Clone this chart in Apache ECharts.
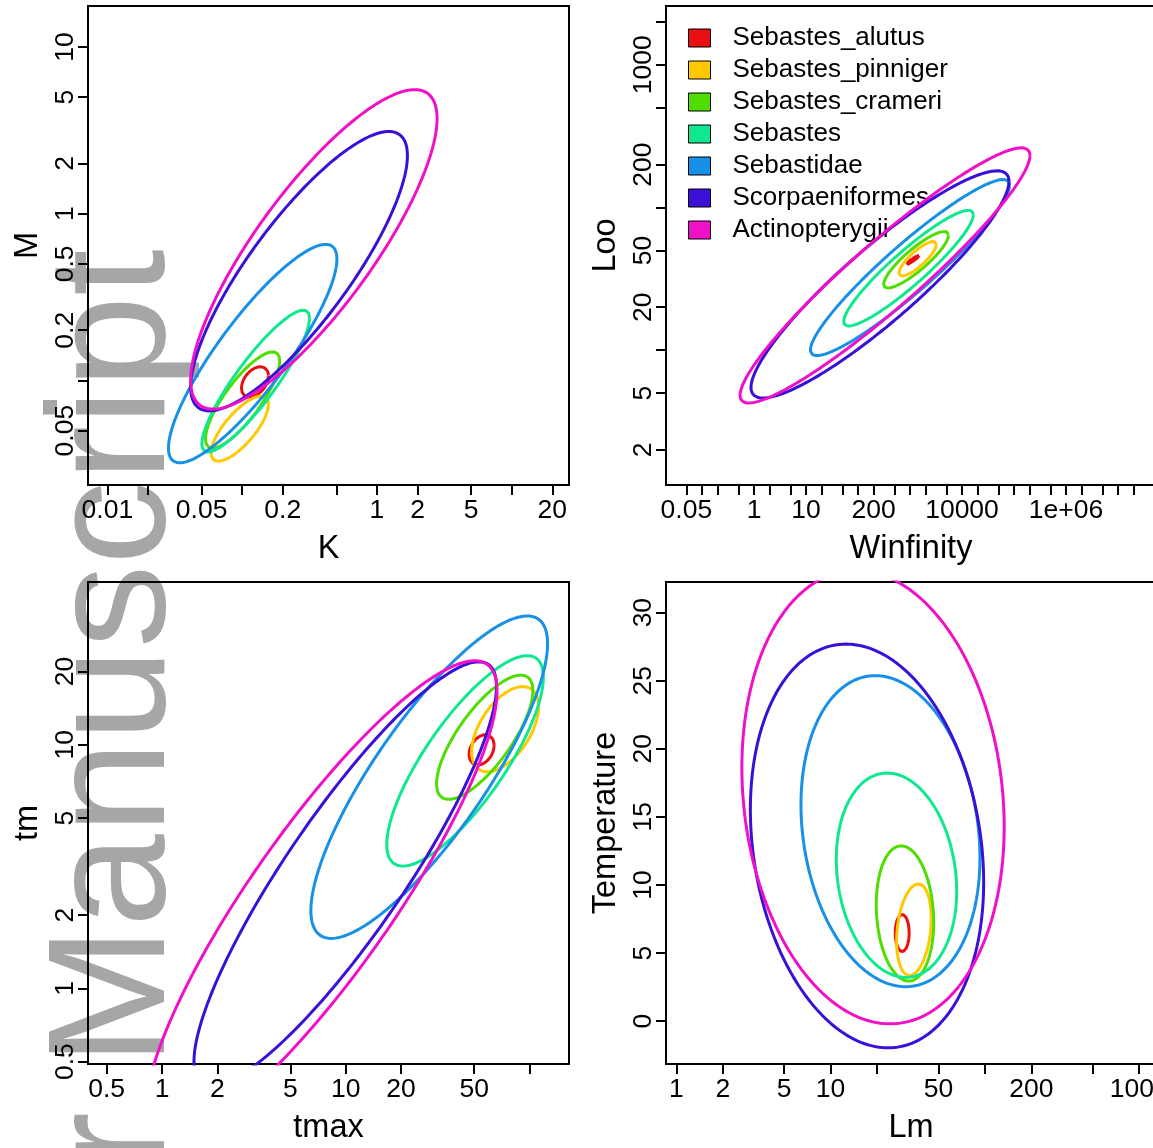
<!DOCTYPE html>
<html>
<head>
<meta charset="utf-8">
<script src="https://cdn.jsdelivr.net/npm/echarts@6/dist/echarts.min.js"></script>
<style>
html, body { margin: 0; padding: 0; background: #fff; }
#chart { width: 1153px; height: 1148px; }
</style>
</head>
<body>
<div id="chart"></div>
<script>
'use strict';

// taxa, in drawing order (last one ends up on top)
var taxa = ['Sebastes_alutus', 'Sebastes_pinniger', 'Sebastes_crameri', 'Sebastes',
    'Sebastidae', 'Scorpaeniformes', 'Actinopterygii'];
var taxaColors = ['#E81010', '#FFC800', '#50DD00', '#10E890', '#1890E8', '#3A10D8', '#F010C8'];

// K vs M : ellipse centre / half extent in log10 units, and correlation
var kmCentreK = [-0.905, -1.018, -0.997, -0.900, -0.922, -0.578, -0.468];
var kmCentreM = [-1.009, -1.289, -1.117, -1.004, -0.839, -0.345, -0.214];
var kmSpreadK = [0.100, 0.213, 0.275, 0.399, 0.625, 0.804, 0.914];
var kmSpreadM = [0.091, 0.195, 0.288, 0.425, 0.655, 0.838, 0.958];
var kmCor = [0.40, 0.75, 0.81, 0.886, 0.866, 0.828, 0.819];

// Winfinity vs Loo
var wlCentreW = [3.050, 3.147, 3.117, 2.971, 3.000, 2.423, 2.519];
var wlCentreL = [1.632, 1.641, 1.634, 1.575, 1.579, 1.461, 1.524];
var wlSpreadW = [0.125, 0.359, 0.623, 1.246, 1.915, 2.481, 2.788];
var wlSpreadL = [0.032, 0.121, 0.198, 0.405, 0.617, 0.796, 0.894];
var wlCor = [0.95, 0.83, 0.87, 0.923, 0.935, 0.907, 0.94];

// tmax vs tm
var ttCentreMax = [1.739, 1.867, 1.756, 1.649, 1.454, 0.997, 0.868];
var ttCentreM = [0.979, 1.064, 1.031, 0.934, 0.867, 0.470, 0.363];
var ttSpreadMax = [0.068, 0.182, 0.262, 0.426, 0.644, 0.823, 0.955];
var ttSpreadM = [0.062, 0.175, 0.255, 0.432, 0.662, 0.871, 0.982];
var ttCor = [0.30, 0.53, 0.75, 0.795, 0.828, 0.884, 0.873];

// Lm (log10) vs Temperature (degrees)
var ltCentreLm = [1.464, 1.540, 1.482, 1.427, 1.388, 1.236, 1.275];
var ltCentreTemp = [6.47, 6.705, 7.905, 10.715, 13.95, 12.865, 16.45];
var ltSpreadLm = [0.045, 0.112, 0.186, 0.390, 0.580, 0.756, 0.850];
var ltSpreadTemp = [1.36, 3.365, 4.965, 7.505, 11.42, 14.825, 16.65];
var ltCor = [0.0, 0.25, -0.13, -0.155, -0.17, -0.18, -0.13];

// tick marks and labelled ticks
var kTicks = [0.01, 0.02, 0.05, 0.1, 0.2, 0.5, 1, 2, 5, 10, 20];
var kLabels = [0.01, 0.05, 0.2, 1, 2, 5, 20];
var mTicks = [0.05, 0.1, 0.2, 0.5, 1, 2, 5, 10];
var mLabels = [0.05, 0.2, 0.5, 1, 2, 5, 10];
var wTicks = [0.05, 0.1, 0.2, 0.5, 1, 2, 5, 10, 20, 50, 100, 200, 500, 1e3, 2e3, 5e3,
    1e4, 2e4, 5e4, 1e5, 2e5, 5e5, 1e6, 2e6, 5e6, 1e7, 2e7, 5e7];
var wLabels = [0.05, 1, 10, 200, 10000, 1e6];
var wLabelText = ['0.05', '1', '10', '200', '10000', '1e+06'];
var lTicks = [2, 5, 10, 20, 50, 100, 200, 500, 1000, 2000];
var lLabels = [2, 5, 20, 50, 200, 1000];
var tmaxTicks = [0.5, 1, 2, 5, 10, 20, 50, 100];
var tmaxLabels = [0.5, 1, 2, 5, 10, 20, 50];
var tmTicks = [0.5, 1, 2, 5, 10, 20];
var lmTicks = [1, 2, 5, 10, 20, 50, 100, 200, 500, 1000];
var lmLabels = [1, 2, 5, 10, 50, 200, 1000];
var tempTicks = [0, 5, 10, 15, 20, 25, 30];

var FONT = '"Liberation Sans", Arial, Helvetica, sans-serif';

// outline of a bivariate-normal contour: x = mx + sx cos t, y = my + sy cos(t + acos r)
function ellipse(mx, my, sx, sy, r, logY) {
    var d = Math.acos(r);
    var pts = [];
    for (var i = 0; i <= 240; i++) {
        var t = i / 240 * 2 * Math.PI;
        var x = mx + sx * Math.cos(t);
        var y = my + sy * Math.cos(t + d);
        pts.push([Math.pow(10, x), logY ? Math.pow(10, y) : y]);
    }
    return pts;
}

function labelFmt(values, texts) {
    return function (v) {
        for (var i = 0; i < values.length; i++) {
            if (Math.abs(Math.log(v / values[i])) < 0.01) {
                return texts ? texts[i] : String(values[i]);
            }
        }
        return '';
    };
}

function makeAxis(opt) {
    var isY = opt.isY;
    var ax = {
        type: opt.type || 'log',
        logBase: 10,
        gridIndex: opt.grid,
        min: opt.min,
        max: opt.max,
        name: opt.name,
        nameLocation: 'middle',
        nameGap: isY ? 43 : 48,
        nameTextStyle: { fontSize: 32.5, color: '#000', fontFamily: FONT },
        axisLine: { show: false, onZero: false },
        splitLine: { show: false },
        minorTick: { show: false },
        minorSplitLine: { show: false },
        axisTick: {
            show: true, inside: false, length: 10,
            customValues: opt.ticks,
            lineStyle: { color: '#000', width: 2 }
        },
        axisLabel: {
            show: true,
            customValues: opt.labels,
            fontSize: 26.5, color: '#000', fontFamily: FONT,
            margin: isY ? 9 : 12,
            rotate: isY ? 90 : 0
        }
    };
    if (ax.type === 'log') {
        ax.axisLabel.formatter = labelFmt(opt.labels, opt.labelText);
    }
    return ax;
}

var gridBase = {
    show: true, borderColor: '#000', borderWidth: 2,
    backgroundColor: 'transparent', containLabel: false, outerBoundsMode: 'none'
};

var option = {
    animation: false,
    backgroundColor: '#fff',
    textStyle: { fontFamily: FONT },
    graphic: [{
        type: 'text', z: -10, x: 118, y: 1066, rotation: Math.PI / 2, silent: true,
        style: {
            text: 'Manuscript', font: '167px ' + FONT, fill: '#a6a6a6',
            align: 'left', verticalAlign: 'middle', textAlign: 'left', textVerticalAlign: 'middle'
        }
    }, {
        type: 'text', z: -10, x: 118, y: 1112, rotation: Math.PI / 2, silent: true,
        style: {
            text: 'Author', font: '167px ' + FONT, fill: '#a6a6a6',
            align: 'right', verticalAlign: 'middle', textAlign: 'right', textVerticalAlign: 'middle'
        }
    }],
    legend: {
        data: taxa,
        orient: 'vertical',
        left: 688, top: 25,
        padding: 0,
        itemWidth: 22, itemHeight: 18, itemGap: 6,
        icon: 'rect',
        selectedMode: false,
        itemStyle: { borderColor: '#000', borderWidth: 1 },
        textStyle: { fontSize: 26, color: '#000', fontFamily: FONT, padding: [0, 0, 0, 17] }
    },
    grid: [
        Object.assign({ left: 88, top: 6, width: 481, height: 479 }, gridBase),
        Object.assign({ left: 666, top: 6, width: 490, height: 479 }, gridBase),
        Object.assign({ left: 88, top: 582, width: 481, height: 482 }, gridBase),
        Object.assign({ left: 666, top: 582, width: 490, height: 482 }, gridBase)
    ],
    xAxis: [
        makeAxis({ grid: 0, min: 0.00718, max: 26.6, name: 'K', ticks: kTicks, labels: kLabels }),
        makeAxis({ grid: 1, min: 0.0203, max: 5.38e7, name: 'Winfinity', ticks: wTicks, labels: wLabels, labelText: wLabelText }),
        makeAxis({ grid: 2, min: 0.3957, max: 163.9, name: 'tmax', ticks: tmaxTicks, labels: tmaxLabels }),
        makeAxis({ grid: 3, min: 0.8575, max: 1285, name: 'Lm', ticks: lmTicks, labels: lmLabels })
    ],
    yAxis: [
        makeAxis({ grid: 0, isY: true, min: 0.0236, max: 17.6, name: 'M', ticks: mTicks, labels: mLabels }),
        makeAxis({ grid: 1, isY: true, min: 1.136, max: 2583, name: 'Loo', ticks: lTicks, labels: lLabels }),
        makeAxis({ grid: 2, isY: true, min: 0.489, max: 46.6, name: 'tm', ticks: tmTicks, labels: tmTicks }),
        makeAxis({ grid: 3, isY: true, type: 'value', min: -3.15, max: 32.25, name: 'Temperature', ticks: tempTicks, labels: tempTicks })
    ],
    series: []
};

var panels = [
    [kmCentreK, kmCentreM, kmSpreadK, kmSpreadM, kmCor, true],
    [wlCentreW, wlCentreL, wlSpreadW, wlSpreadL, wlCor, true],
    [ttCentreMax, ttCentreM, ttSpreadMax, ttSpreadM, ttCor, true],
    [ltCentreLm, ltCentreTemp, ltSpreadLm, ltSpreadTemp, ltCor, false]
];

panels.forEach(function (p, pi) {
    taxa.forEach(function (name, i) {
        option.series.push({
            type: 'line',
            name: name,
            xAxisIndex: pi,
            yAxisIndex: pi,
            data: ellipse(p[0][i], p[1][i], p[2][i], p[3][i], p[4][i], p[5]),
            symbol: 'none',
            showSymbol: false,
            smooth: false,
            clip: true,
            silent: true,
            z: 2 + i,
            color: taxaColors[i],
            itemStyle: { color: taxaColors[i] },
            lineStyle: { color: taxaColors[i], width: 3 }
        });
    });
});

var chart = echarts.init(document.getElementById('chart'), null, { renderer: 'canvas' });
chart.setOption(option);
</script>
</body>
</html>
